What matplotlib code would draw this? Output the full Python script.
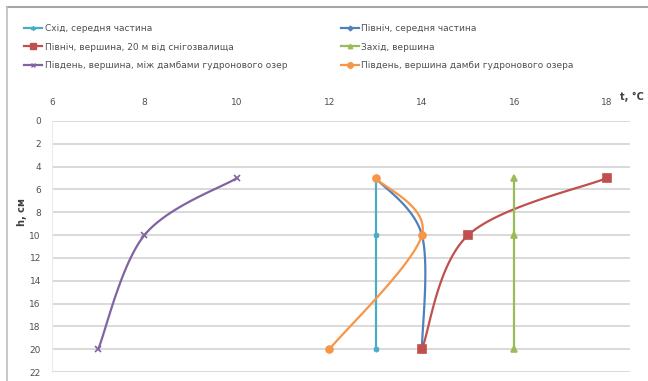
import matplotlib.pyplot as plt
import numpy as np
from matplotlib.lines import Line2D

# depth of each measurement, cm
depth = [5, 10, 20]

# soil temperature at each depth, °C
east_middle = [13, 13, 13]
north_middle = [13, 14, 14]
north_top = [18, 15, 14]
west_top = [16, 16, 16]
south_between_dams = [10, 8, 7]
south_dam_top = [13, 14, 12]

labels = [
    "Схід, середня частина",
    "Північ, середня частина",
    "Північ, вершина, 20 м від снігозвалища",
    "Захід, вершина",
    "Південь, вершина, між дамбами гудронового озер",
    "Південь, вершина дамби гудронового озера",
]
series = [east_middle, north_middle, north_top, west_top, south_between_dams, south_dam_top]
colors = ["#4bacc6", "#4f81bd", "#c0504d", "#9bbb59", "#8064a2", "#f79646"]
markers = [(6, 2, 0), "D", "s", "^", "x", "o"]
msizes = [4, 3, 6, 4, 4, 5]


def smooth(x, y, n=30):
    # Bezier smoothing through the points, control points at 1/6 of neighbour span
    pts = np.column_stack([x, y]).astype(float)
    ext = np.vstack([pts[0], pts, pts[-1]])
    out = []
    for i in range(1, len(ext) - 2):
        p0, p1, p2, p3 = ext[i - 1], ext[i], ext[i + 1], ext[i + 2]
        c1 = p1 + (p2 - p0) / 6
        c2 = p2 - (p3 - p1) / 6
        t = np.linspace(0, 1, n)[:, None]
        seg = ((1 - t) ** 3) * p1 + 3 * ((1 - t) ** 2) * t * c1 + 3 * (1 - t) * t ** 2 * c2 + t ** 3 * p2
        out.append(seg if i == 1 else seg[1:])
    seg = np.vstack(out)
    return seg[:, 0], seg[:, 1]


fig = plt.figure(figsize=(6.48, 3.81), dpi=100)
ax = fig.add_axes([52 / 648, 1 - 372 / 381, (630 - 52) / 648, (372 - 121) / 381])

draw_order = [0, 4, 3, 2, 1, 5]
for i in draw_order:
    xs, ys = smooth(series[i], depth)
    ax.plot(xs, ys, color=colors[i], lw=1.6, zorder=3 + i * 0.1)
    ax.plot(series[i], depth, ls="none", marker=markers[i], ms=msizes[i],
            color=colors[i], mec=colors[i], mew=1.2, zorder=4 + i * 0.1)

ax.set_xlim(6, 18.5)
ax.set_ylim(22, 0)
ax.set_xticks(range(6, 19, 2))
ax.set_yticks(range(0, 23, 2))
ax.xaxis.tick_top()
ax.tick_params(length=0, labelsize=6.5, labelcolor="#505050")
ax.tick_params(axis="x", pad=10)
ax.tick_params(axis="y", pad=8)
ax.grid(axis="y", color="#d9d9d9", lw=1.4)
ax.set_axisbelow(True)
for s in ["top", "right", "bottom"]:
    ax.spines[s].set_visible(False)
ax.spines["left"].set_color("#ececec")

fig.text(22 / 648, 1 - 212 / 381, "h, см", rotation=90, ha="center", va="center",
         fontsize=7, fontweight="bold", color="#404040")
fig.text(632 / 648, 1 - 97 / 381, "t, °C", ha="center", va="center",
         fontsize=7, fontweight="bold", color="#404040")

# legend entries laid out row by row, two per row
order = [0, 2, 4, 1, 3, 5]
handles = [Line2D([], [], color=colors[i], lw=1.6, marker=markers[i], ms=msizes[i] * 0.8,
                  mec=colors[i]) for i in order]
fig.legend(handles, [labels[i] for i in order], ncol=2, loc="upper left",
           bbox_to_anchor=(16 / 648, 1 - 16 / 381), frameon=False, fontsize=6.5,
           handlelength=2.0, handletextpad=0.3, columnspacing=5.9, labelspacing=1.05,
           labelcolor="#505050")

# chart frame
fig.add_artist(Line2D([7 / 648, 1], [1 - 7 / 381] * 2, color="#a6a6a6", lw=1.5))
fig.add_artist(Line2D([7 / 648] * 2, [0, 1 - 7 / 381], color="#bfbfbf", lw=1.2))

fig.savefig("out.png", dpi=100)
